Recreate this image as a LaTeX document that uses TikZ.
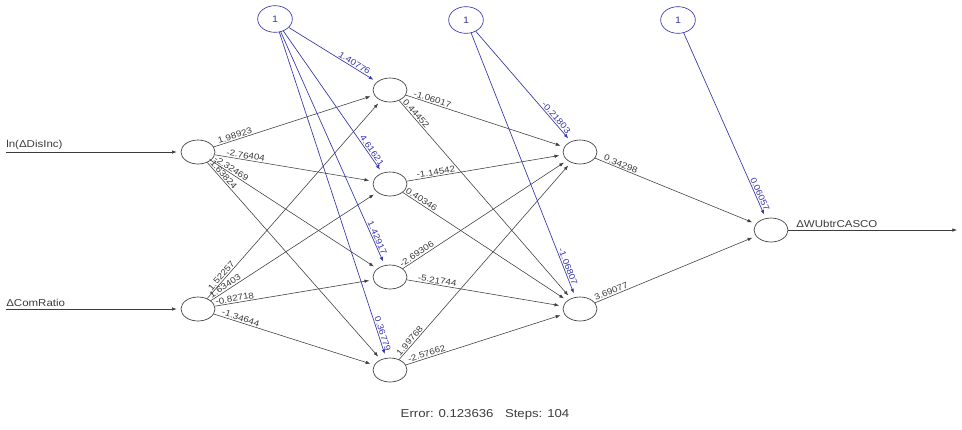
\documentclass[tikz,border=0pt]{standalone}
\usepackage{fontspec}
\setmainfont[FakeStretch=1.15]{Liberation Sans}
\usetikzlibrary{arrows.meta,shapes.geometric}
\definecolor{bl}{RGB}{55,55,175}
\definecolor{ed}{RGB}{60,60,60}
\begin{document}
\begin{tikzpicture}[x=0.75pt,y=-0.75pt,
  neuron/.style={draw=ed, line width=0.5pt, ellipse, minimum width=25.5pt, minimum height=18pt, inner sep=0pt},
  biasnode/.style={draw=bl, line width=0.5pt, ellipse, minimum width=26pt, minimum height=20pt, inner sep=0pt, text=bl, font=\fontsize{7}{8}\selectfont},
  wedge/.style={draw=ed, line width=0.42pt, -{Latex[length=3.5pt,width=2.6pt]}, shorten >=3pt},
  bedge/.style={draw=bl, line width=0.5pt, -{Latex[length=3.5pt,width=2.6pt]}, shorten >=3pt},
  wlab/.style={font=\fontsize{6.4}{7}\selectfont, sloped, above, inner sep=0.8pt, text=ed},
  blab/.style={font=\fontsize{6.4}{7}\selectfont, sloped, above, inner sep=0.8pt, text=bl},
  iolab/.style={font=\fontsize{7.5}{9}\selectfont, text=ed, inner sep=0pt},
  errlab/.style={font=\fontsize{8.6}{10}\selectfont, text=ed, inner sep=0pt}]
\useasboundingbox (0,0) rectangle (962,429);
\fill[white] (0,0) rectangle (962,429);

% nodes
\node[neuron] (i1) at (198,152) {};
\node[neuron] (i2) at (198,309) {};
\node[neuron] (h1) at (390,90) {};
\node[neuron] (h2) at (390,184) {};
\node[neuron] (h3) at (390,277) {};
\node[neuron] (h4) at (390,370) {};
\node[neuron] (g1) at (580,152) {};
\node[neuron] (g2) at (580,309) {};
\node[neuron] (o) at (771,230) {};
\node[biasnode] (b1) at (275,19) {1};
\node[biasnode] (b2) at (466,20) {1};
\node[biasnode] (b3) at (678,20) {1};

% inputs and output
\coordinate (x1) at (6,152);
\coordinate (x2) at (6,309);
\coordinate (y1) at (961,230);
\draw[wedge] (x1) -- (i1);
\draw[wedge] (x2) -- (i2);
\draw[wedge] (o) -- (y1);
\node[iolab, anchor=south west] (t1) at (6,150) {ln(ΔDisInc)};
\node[iolab, anchor=south west] (t2) at (6,307) {ΔComRatio};
\node[iolab, anchor=south west] (t3) at (796,228) {ΔWUbtrCASCO};

% input -> hidden
\draw[wedge] (i1) -- node[wlab,pos=0.14]{1.98923} (h1);
\draw[wedge] (i1) -- node[wlab,pos=0.19]{-2.76404} (h2);
\draw[wedge] (i1) -- node[wlab,pos=0.11]{-2.32469} (h3);
\draw[wedge] (i1) -- node[wlab,pos=0.07]{-1.63824} (h4);
\draw[wedge] (i2) -- node[wlab,pos=0.10]{1.52257} (h1);
\draw[wedge] (i2) -- node[wlab,pos=0.10]{1.63403} (h2);
\draw[wedge] (i2) -- node[wlab,pos=0.13]{-0.82718} (h3);
\draw[wedge] (i2) -- node[wlab,pos=0.16]{-1.34644} (h4);

% hidden -> hidden 2
\draw[wedge] (h1) -- node[wlab,pos=0.16]{-1.06017} (g1);
\draw[wedge] (h1) -- node[wlab,pos=0.08]{0.44452} (g2);
\draw[wedge] (h2) -- node[wlab,pos=0.19]{-1.14542} (g1);
\draw[wedge] (h2) -- node[wlab,pos=0.10]{0.40346} (g2);
\draw[wedge] (h3) -- node[wlab,pos=0.10]{-2.69306} (g1);
\draw[wedge] (h3) -- node[wlab,pos=0.19]{-5.21744} (g2);
\draw[wedge] (h4) -- node[wlab,pos=0.08]{1.99768} (g1);
\draw[wedge] (h4) -- node[wlab,pos=0.14]{-2.57662} (g2);

% hidden 2 -> output
\draw[wedge] (g1) -- node[wlab,pos=0.15]{0.34298} (o);
\draw[wedge] (g2) -- node[wlab,pos=0.11]{3.69077} (o);

% bias edges
\draw[bedge] (b1) -- node[blab,pos=0.72]{1.40776} (h1);
\draw[bedge] (b1) -- node[blab,pos=0.86]{4.61621} (h2);
\draw[bedge] (b1) -- node[blab,pos=0.89]{1.42917} (h3);
\draw[bedge] (b1) -- node[blab,pos=0.93]{0.36779} (h4);
\draw[bedge] (b2) -- node[blab,pos=0.81]{-0.21803} (g1);
\draw[bedge] (b2) -- node[blab,pos=0.89]{-1.06807} (g2);
\draw[bedge] (b3) -- node[blab,pos=0.88]{0.06057} (o);

\node[errlab] (err) at (485,415) {Error: 0.123636\quad Steps: 104};
\end{tikzpicture}
\end{document}
